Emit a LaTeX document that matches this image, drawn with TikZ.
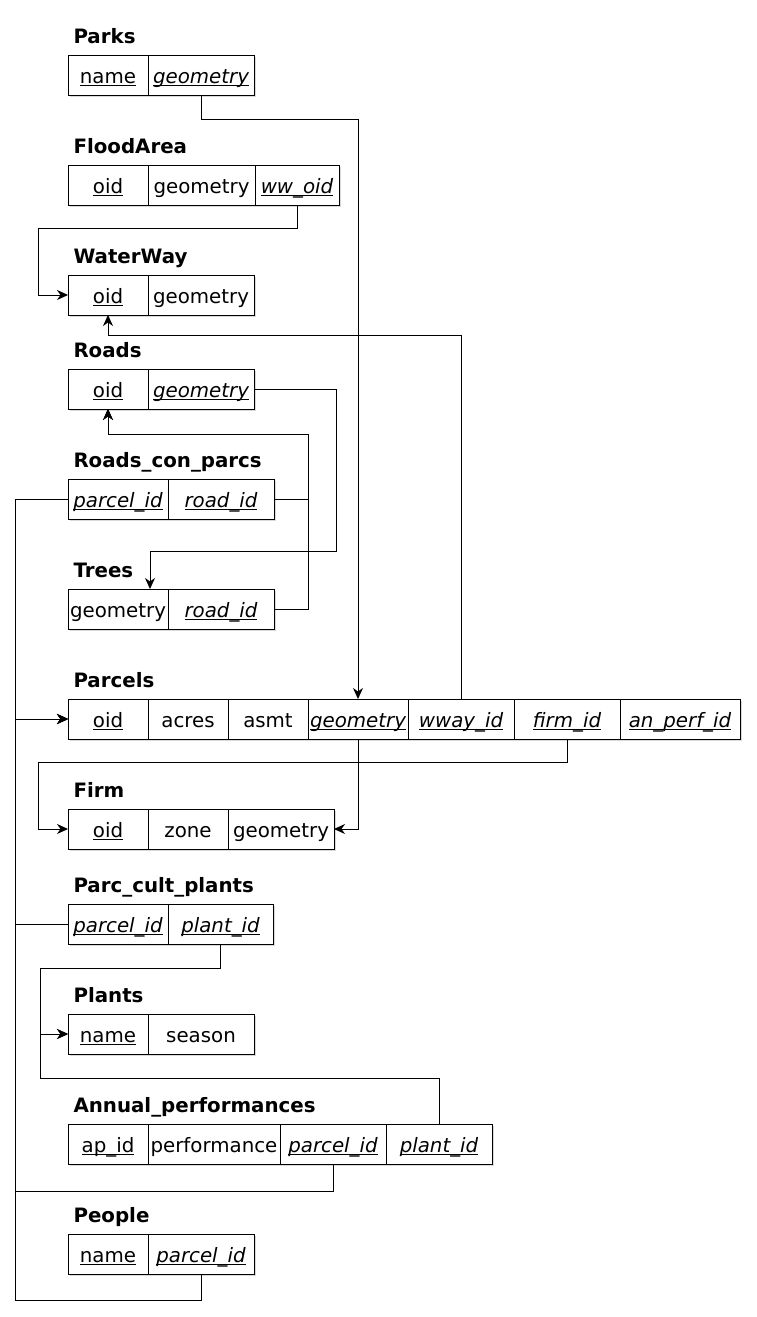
\documentclass[tikz,border=0pt]{standalone}
\usepackage{fontspec}
\setmainfont{DejaVu Sans}
\usetikzlibrary{chains,positioning,shadows,arrows.meta}

\newcommand\ulkey[1]{\setbox0\hbox{#1}\rlap{\rule[-3pt]{\wd0}{0.9pt}}\box0}
\newcommand\ulfkey[1]{\ulkey{\itshape #1}}

\begin{document}
\begin{tikzpicture}[x=1pt,y=-1pt,>={Stealth[length=11pt,width=10pt,inset=3.5pt]}]
    \tikzstyle{every path}=[line width=1pt]
    \useasboundingbox (0,0) rectangle (756,1317);

    \edef\sizerow{40pt}
    \tikzstyle{cell}=[draw,fill=white,minimum height=\sizerow,inner sep=0pt,outer sep=0pt,
    text height=20pt,text depth=4pt,font=\fontsize{19.8pt}{24pt}\selectfont,
    drop shadow={shadow xshift=2pt,shadow yshift=-2pt,fill=black!15,opacity=1}]
    \tikzstyle{tbltitle}=[anchor=base west,inner sep=0pt,font=\fontsize{19.8pt}{24pt}\selectfont\bfseries]
    \tikzstyle{fkey}=[->]

    %% Parks
    \begin{scope}[start chain=parks going right,node distance=0pt]
        \node [on chain=parks,cell,minimum width=80pt,anchor=north west] at (68,55) (parks-name) {\ulkey{name}};
        \node [on chain=parks,cell,minimum width=106pt] (parks-geom) {\ulfkey{geometry}};
    \end{scope}
    \node [tbltitle] at ([xshift=5pt,yshift=12pt]parks-name.north west) (parks-title) {Parks};

    %% FloodArea
    \begin{scope}[start chain=flood going right,node distance=0pt]
        \node [on chain=flood,cell,minimum width=80pt,anchor=north west] at (68,165) (flood-oid) {\ulkey{oid}};
        \node [on chain=flood,cell,minimum width=107pt] (flood-geom) {geometry};
        \node [on chain=flood,cell,minimum width=84pt] (flood-ww) {\ulfkey{ww\_oid}};
    \end{scope}
    \node [tbltitle] at ([xshift=5pt,yshift=12pt]flood-oid.north west) (flood-title) {FloodArea};

    %% WaterWay
    \begin{scope}[start chain=ww going right,node distance=0pt]
        \node [on chain=ww,cell,minimum width=80pt,anchor=north west] at (68,275) (ww-oid) {\ulkey{oid}};
        \node [on chain=ww,cell,minimum width=106pt] (ww-geom) {geometry};
    \end{scope}
    \node [tbltitle] at ([xshift=5pt,yshift=12pt]ww-oid.north west) (ww-title) {WaterWay};

    %% Roads
    \begin{scope}[start chain=roads going right,node distance=0pt]
        \node [on chain=roads,cell,minimum width=80pt,anchor=north west] at (68,369) (roads-oid) {\ulkey{oid}};
        \node [on chain=roads,cell,minimum width=106pt] (roads-geom) {\ulfkey{geometry}};
    \end{scope}
    \node [tbltitle] at ([xshift=5pt,yshift=12pt]roads-oid.north west) (roads-title) {Roads};

    %% Roads_con_parcs
    \begin{scope}[start chain=rcp going right,node distance=0pt]
        \node [on chain=rcp,cell,minimum width=100pt,anchor=north west] at (68,479) (rcp-parcel) {\ulfkey{parcel\_id}};
        \node [on chain=rcp,cell,minimum width=106pt] (rcp-road) {\ulfkey{road\_id}};
    \end{scope}
    \node [tbltitle] at ([xshift=5pt,yshift=12pt]rcp-parcel.north west) (rcp-title) {Roads\_con\_parcs};

    %% Trees
    \begin{scope}[start chain=trees going right,node distance=0pt]
        \node [on chain=trees,cell,minimum width=100pt,anchor=north west] at (68,589) (trees-geom) {geometry};
        \node [on chain=trees,cell,minimum width=106pt] (trees-road) {\ulfkey{road\_id}};
    \end{scope}
    \node [tbltitle] at ([xshift=5pt,yshift=12pt]trees-geom.north west) (trees-title) {Trees};
    \coordinate (trees-in) at ([xshift=32pt]trees-geom.north);

    %% Parcels
    \begin{scope}[start chain=parc going right,node distance=0pt]
        \node [on chain=parc,cell,minimum width=80pt,anchor=north west] at (68,699) (parc-oid) {\ulkey{oid}};
        \node [on chain=parc,cell,minimum width=80pt] (parc-acres) {acres};
        \node [on chain=parc,cell,minimum width=80pt] (parc-asmt) {asmt};
        \node [on chain=parc,cell,minimum width=100pt] (parc-geom) {\ulfkey{geometry}};
        \node [on chain=parc,cell,minimum width=106pt] (parc-wway) {\ulfkey{wway\_id}};
        \node [on chain=parc,cell,minimum width=106pt] (parc-firm) {\ulfkey{firm\_id}};
        \node [on chain=parc,cell,minimum width=120pt] (parc-perf) {\ulfkey{an\_perf\_id}};
    \end{scope}
    \node [tbltitle] at ([xshift=5pt,yshift=12pt]parc-oid.north west) (parc-title) {Parcels};

    %% Firm
    \begin{scope}[start chain=firm going right,node distance=0pt]
        \node [on chain=firm,cell,minimum width=80pt,anchor=north west] at (68,809) (firm-oid) {\ulkey{oid}};
        \node [on chain=firm,cell,minimum width=80pt] (firm-zone) {zone};
        \node [on chain=firm,cell,minimum width=106pt] (firm-geom) {geometry};
    \end{scope}
    \node [tbltitle] at ([xshift=5pt,yshift=12pt]firm-oid.north west) (firm-title) {Firm};

    %% Parc_cult_plants
    \begin{scope}[start chain=pcp going right,node distance=0pt]
        \node [on chain=pcp,cell,minimum width=100pt,anchor=north west] at (68,904) (pcp-parcel) {\ulfkey{parcel\_id}};
        \node [on chain=pcp,cell,minimum width=105pt] (pcp-plant) {\ulfkey{plant\_id}};
    \end{scope}
    \node [tbltitle] at ([xshift=5pt,yshift=12pt]pcp-parcel.north west) (pcp-title) {Parc\_cult\_plants};

    %% Plants
    \begin{scope}[start chain=plants going right,node distance=0pt]
        \node [on chain=plants,cell,minimum width=80pt,anchor=north west] at (68,1014) (plants-name) {\ulkey{name}};
        \node [on chain=plants,cell,minimum width=106pt] (plants-season) {season};
    \end{scope}
    \node [tbltitle] at ([xshift=5pt,yshift=12pt]plants-name.north west) (plants-title) {Plants};

    %% Annual_performances
    \begin{scope}[start chain=ap going right,node distance=0pt]
        \node [on chain=ap,cell,minimum width=80pt,anchor=north west] at (68,1124) (ap-id) {\ulkey{ap\_id}};
        \node [on chain=ap,cell,minimum width=132pt] (ap-perf) {performance};
        \node [on chain=ap,cell,minimum width=106pt] (ap-parcel) {\ulfkey{parcel\_id}};
        \node [on chain=ap,cell,minimum width=106pt] (ap-plant) {\ulfkey{plant\_id}};
    \end{scope}
    \node [tbltitle] at ([xshift=5pt,yshift=12pt]ap-id.north west) (ap-title) {Annual\_performances};

    %% People
    \begin{scope}[start chain=people going right,node distance=0pt]
        \node [on chain=people,cell,minimum width=80pt,anchor=north west] at (68,1234) (people-name) {\ulkey{name}};
        \node [on chain=people,cell,minimum width=106pt] (people-parcel) {\ulfkey{parcel\_id}};
    \end{scope}
    \node [tbltitle] at ([xshift=5pt,yshift=12pt]people-name.north west) (people-title) {People};

    %% Foreign keys
    \draw [fkey] (parks-geom.south) -- ++(0,24) -| (parc-geom.north);
    \draw [fkey] (flood-ww.south) -- ++(0,23) -| ([xshift=-30pt]ww-oid.west) -- (ww-oid.west);
    \draw [fkey] (parc-wway.north) |- ([yshift=-20pt]ww-oid.south) -- (ww-oid.south);
    \draw [fkey] (roads-geom.east) -- ++(82,0) |- ([yshift=38pt]trees-in) -- (trees-in);
    \draw [fkey] (rcp-road.east) -- ++(34,0) |- ([yshift=-25pt]roads-oid.south) -- (roads-oid.south);
    \draw [fkey] (trees-road.east) -- ++(34,0) |- ([yshift=-25pt]roads-oid.south) -- (roads-oid.south);
    \draw [fkey] (rcp-parcel.west) -- ++(-53,0) |- (parc-oid.west);
    \draw [fkey] (pcp-parcel.west) -- ++(-53,0) |- (parc-oid.west);
    \draw [fkey] (ap-parcel.south) -- ++(0,27) -| ([xshift=-53pt]parc-oid.west) -- (parc-oid.west);
    \draw [fkey] (people-parcel.south) -- ++(0,26) -| ([xshift=-53pt]parc-oid.west) -- (parc-oid.west);
    \draw [fkey] (parc-geom.south) |- (firm-geom.east);
    \draw [fkey] (parc-firm.south) -- ++(0,23) -| ([xshift=-30pt]firm-oid.west) -- (firm-oid.west);
    \draw [fkey] (pcp-plant.south) -- ++(0,24) -| ([xshift=-28pt]plants-name.west) -- (plants-name.west);
    \draw [fkey] (ap-plant.north) -- ++(0,-46) -| ([xshift=-28pt]plants-name.west) -- (plants-name.west);

\end{tikzpicture}
\end{document}
